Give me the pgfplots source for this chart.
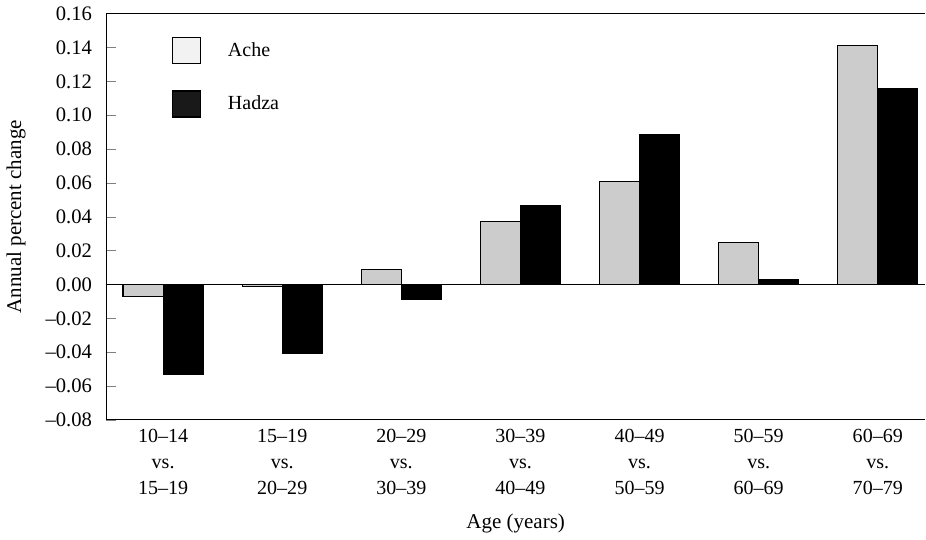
\documentclass[border=0pt]{standalone}
\usepackage{pgfplots}
\pgfplotsset{compat=1.18}
\usepackage{fontspec}
\setmainfont{Liberation Serif}
\begin{document}
\begin{tikzpicture}
\begin{axis}[
  scale only axis,
  width=409.5pt, height=203pt,
  ybar=0pt, bar width=0.337,
  xmin=-0.48, xmax=6.4,
  ymin=-0.08, ymax=0.16,
  axis x line=box, axis y line=left,
  y axis line style={-},
  xtick=data,
  xticklabels={{10\textendash14\\vs.\\15\textendash19},{15\textendash19\\vs.\\20\textendash29},{20\textendash29\\vs.\\30\textendash39},{30\textendash39\\vs.\\40\textendash49},{40\textendash49\\vs.\\50\textendash59},{50\textendash59\\vs.\\60\textendash69},{60\textendash69\\vs.\\70\textendash79}},
  xticklabel style={align=center, font=\fontsize{10}{13}\selectfont, yshift=-1pt},
  x tick style={draw=none},
  ytick={-0.08,-0.06,...,0.161},
  yticklabels={\textendash0.08,\textendash0.06,\textendash0.04,\textendash0.02,0.00,0.02,0.04,0.06,0.08,0.10,0.12,0.14,0.16},
  yticklabel style={font=\fontsize{10.3}{12}\selectfont, xshift=-3.5pt},
  tick align=inside, major tick length=5pt,
  extra y ticks={0}, extra y tick labels={},
  extra y tick style={grid=major, major grid style={black, line width=0.6pt}, major tick length=0pt},
  xlabel={Age (years)},
  xlabel shift=3pt,
  ylabel={Annual percent change},
  ylabel shift=3pt,
  label style={font=\fontsize{10.5}{12}\selectfont},
  every axis line/.style={line width=0.7pt},
  legend style={draw=none, fill=none, at={(axis description cs:0.08,0.943)}, anchor=north west,
    inner sep=0pt, row sep=13pt, font=\fontsize{10}{12}\selectfont,
    nodes={inner sep=0pt, anchor=west}},
  legend image code/.code={\draw[#1, draw=black, line width=0.6pt] (0pt,-6.5pt) rectangle (14pt,6.5pt); \path (27.5pt,0pt);},
]
\addplot[fill=black!20, draw=black, line width=0.6pt, forget plot, bar shift=-0.1685] coordinates {(0,-0.0071) (1,-0.0010) (2,0.0087) (3,0.0374) (4,0.0610) (5,0.0246) (6,0.1410)};
\addplot[fill=black, draw=black, line width=0.6pt, forget plot, bar shift=0.1685] coordinates {(0,-0.0534) (1,-0.0405) (2,-0.0089) (3,0.0466) (4,0.0885) (5,0.0030) (6,0.1160)};
\addlegendimage{fill=black!5}
\addlegendentry{Ache}
\addlegendimage{fill=black!90}
\addlegendentry{Hadza}
\end{axis}
\end{tikzpicture}
\end{document}
